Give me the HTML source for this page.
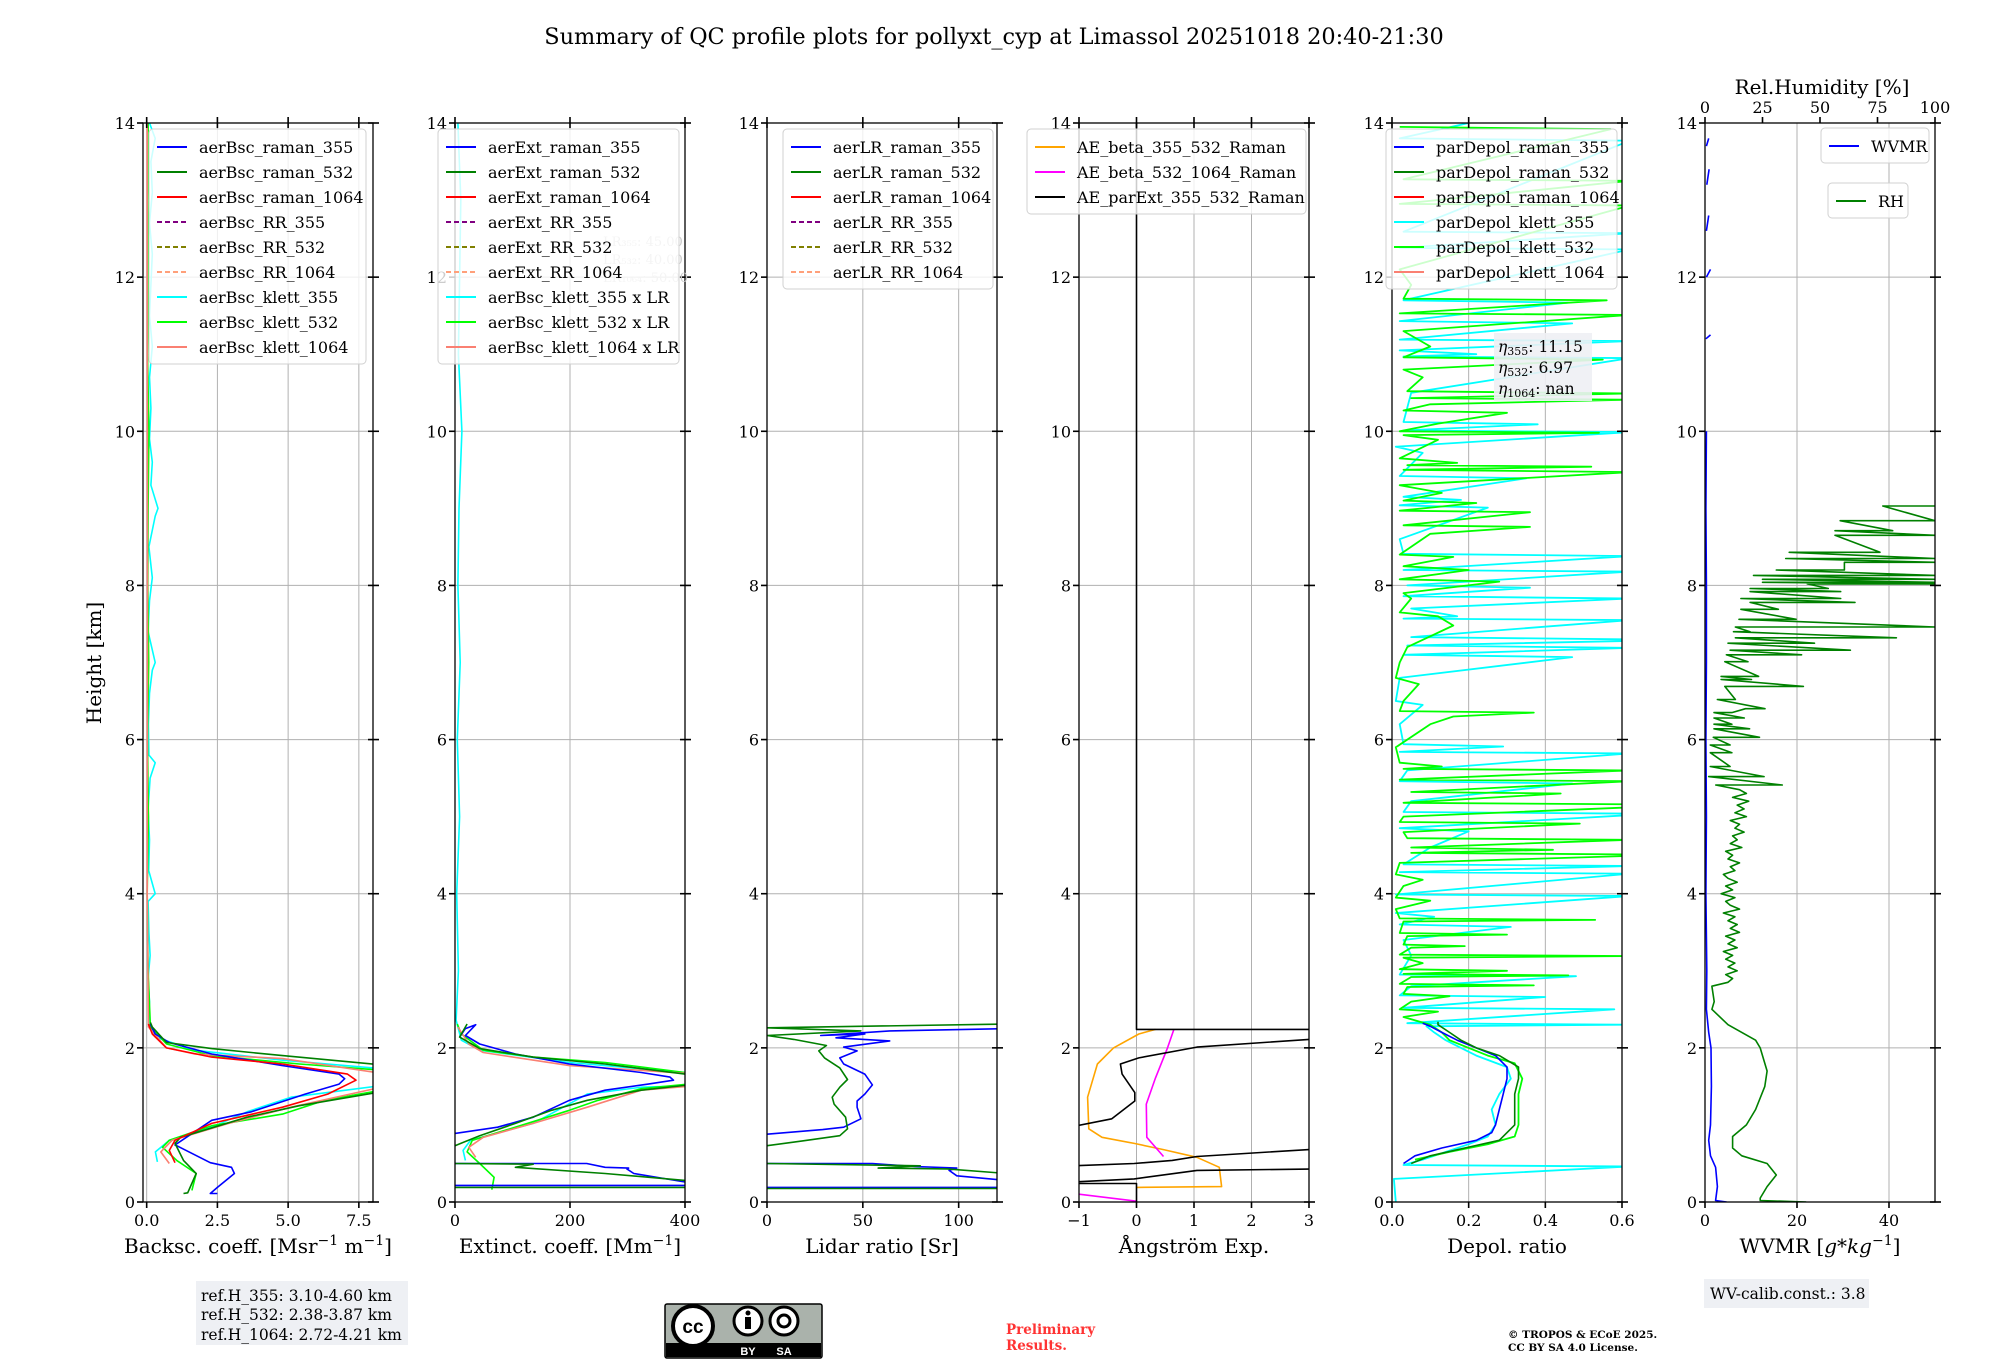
<!DOCTYPE html>
<html><head><meta charset="utf-8">
<style>
html,body{margin:0;padding:0;background:#fff;}
svg{display:block;font-family:"DejaVu Serif","Liberation Serif",serif;}
</style></head>
<body>
<svg id="fig" width="2000" height="1360" viewBox="0 0 2000 1360" xmlns="http://www.w3.org/2000/svg">
<text x="994" y="44" font-size="22.4" text-anchor="middle">Summary of QC profile plots for pollyxt_cyp at Limassol 20251018 20:40-21:30</text>
<text x="0" y="0" font-size="20" text-anchor="middle" transform="translate(101,663) rotate(-90)">Height [km]</text>
<text x="1822" y="94" font-size="20" text-anchor="middle">Rel.Humidity [%]</text>
<g>
<rect x="196" y="1281" width="212" height="64" fill="#eef0f4"/>
<text x="201" y="1301" font-size="15.5">ref.H_355: 3.10-4.60 km</text>
<text x="201" y="1320" font-size="15.5">ref.H_532: 2.38-3.87 km</text>
<text x="201" y="1340" font-size="15.5">ref.H_1064: 2.72-4.21 km</text>
</g>
<g>
<rect x="665" y="1304" width="157" height="54" rx="2" fill="#aab2ab" stroke="#000" stroke-width="1.5"/>
<rect x="666" y="1343" width="155" height="14" fill="#000"/>
<circle cx="693" cy="1326" r="20" fill="#fff" stroke="#000" stroke-width="4"/>
<text x="693" y="1333" font-size="19" font-family="Liberation Sans,sans-serif" font-weight="bold" text-anchor="middle">cc</text>
<circle cx="748" cy="1321" r="14" fill="#fff" stroke="#000" stroke-width="3"/>
<circle cx="748" cy="1313" r="2.5" fill="#000"/>
<rect x="745" y="1317" width="6" height="12" fill="#000"/>
<circle cx="784" cy="1321" r="14" fill="#fff" stroke="#000" stroke-width="3"/>
<circle cx="784" cy="1321" r="6" fill="none" stroke="#000" stroke-width="3"/>
<text x="748" y="1355" font-size="11" fill="#fff" font-family="Liberation Sans,sans-serif" font-weight="bold" text-anchor="middle">BY</text>
<text x="784" y="1355" font-size="11" fill="#fff" font-family="Liberation Sans,sans-serif" font-weight="bold" text-anchor="middle">SA</text>
</g>
<text x="1006" y="1334" font-size="13.5" font-weight="bold" fill="#ff3333">Preliminary</text>
<text x="1006" y="1350" font-size="13.5" font-weight="bold" fill="#ff3333">Results.</text>
<text x="1508" y="1338" font-size="10.5" font-weight="bold">© TROPOS &amp; ECoE 2025.</text>
<text x="1508" y="1351" font-size="10.5" font-weight="bold">CC BY SA 4.0 License.</text>
<g>
<rect x="1704" y="1279" width="165" height="29" fill="#eef0f4"/>
<text x="1710" y="1299" font-size="15.5">WV-calib.const.: 3.8</text>
</g>
</svg>
<script>
// ---------- data (heights in km) ----------
const yTicks = [0,2,4,6,8,10,12,14];
// Panel 1 backscatter
const bscR355H = [0.11,0.11,0.19,0.37,0.45,0.51,0.73,0.74,1.06,1.17,1.40,1.53,1.60,1.66,1.77,1.92,2.07,2.18,2.31];
const bscR355V = [2.5,2.25,2.5,3.1,3.0,2.25,1.06,1.0,2.3,3.7,5.6,6.8,7.0,6.8,4.8,2.3,0.8,0.3,0.13];
const bscR532H = [0.11,0.12,0.37,0.54,0.76,0.84,1.10,1.25,1.43,1.78,1.90,1.99,2.07,2.27,2.33];
const bscR532V = [1.3,1.45,1.75,1.3,1.0,1.2,3.55,5.4,8.3,8.3,4.8,2.3,0.7,0.2,0.13];
const bscR1064H = [0.51,0.67,0.80,1.02,1.23,1.40,1.58,1.66,1.79,1.88,2.00,2.18,2.31];
const bscR1064V = [1.0,0.8,1.0,2.3,4.8,6.4,7.4,7.1,4.8,2.3,0.7,0.2,0.06];
const bscK355H = [0.52,0.65,0.80,0.97,1.17,1.36,1.51,1.73,1.84,1.97,2.14,2.31,2.6,2.9,3.2,3.5,3.9,4.0,4.3,4.7,5.1,5.5,5.7,5.8,6.2,6.6,6.9,7.0,7.4,7.8,8.1,8.5,8.9,9.0,9.3,9.6,9.9,10.3,10.7,11.1,11.5,11.9,12.3,12.7,13.1,13.5,13.8,14.0];
const bscK355V = [0.38,0.31,0.8,2.3,3.55,5.1,8.3,8.3,4.8,1.7,0.31,0.06,0.1,0.05,0.12,0.08,0.05,0.3,0.07,0.1,0.05,0.12,0.3,0.08,0.06,0.1,0.2,0.3,0.05,0.1,0.2,0.08,0.3,0.4,0.15,0.2,0.1,0.15,0.1,0.2,0.1,0.15,0.2,0.1,0.2,0.15,0.3,0.1];
const bscK532H = [0.15,0.37,0.54,0.71,0.80,0.99,1.14,1.32,1.45,1.71,1.79,1.90,2.05,2.27,3,4,5,6,7,8,9,10,11,12,13,14];
const bscK532V = [1.6,1.75,1.06,0.56,0.8,2.3,4.8,6.3,8.3,8.3,5.4,2.3,0.7,0.13,0.05,0.02,0.06,0.03,0.07,0.04,0.05,0.08,0.03,0.06,0.08,0.05];
const bscK1064H = [0.50,0.65,0.80,1.02,1.23,1.49,1.67,1.86,1.92,2.00,2.27,4,8,12,14];
const bscK1064V = [0.8,0.5,0.9,2.9,5.1,8.3,8.3,4.8,1.7,0.7,0.06,0.02,0.03,0.02,0.02];
// Panel 2 extinction (null = break)
const extR355H = [0.216,0.216,0.26,0.37,0.43,0.44,0.45,0.50,0.50,null,0.89,0.97,1.10,1.32,1.45,1.53,1.58,1.62,1.68,1.79,1.92,2.05,2.16,2.30,2.25,2.14];
const extR355V = [0,420,400,311,299,302,261,229,0,null,0,74,136,199,261,336,380,374,324,199,105,43,18,36,18,8];
const extR532H = [0.19,0.19,0.28,0.37,0.45,0.49,0.50,null,0.73,0.86,1.02,1.19,1.32,1.45,1.53,1.60,1.66,1.79,1.88,1.99,2.14,2.31];
const extR532V = [0,420,400,261,105,136,0,null,0,43,105,168,230,324,420,420,400,261,136,43,8,21];
const extK355H = [0.54,0.67,0.80,1.02,1.40,1.49,1.51,1.60,1.68,1.81,1.97,2.10,2.36,3,4,5,6,7,8,9,10,11,12,13,14];
const extK355V = [18,14,27,136,230,324,420,420,400,199,43,11,2,6,3,8,4,9,5,7,12,6,8,10,5];
const extK532H = [0.16,0.32,0.50,0.65,0.80,0.97,1.19,1.32,1.47,1.54,1.62,1.68,1.81,1.88,1.97,2.18,2.31];
const extK532V = [64,68,43,21,30,105,199,249,324,420,420,400,261,136,49,11,4];
const extK1064H = [0.58,0.71,0.84,1.02,1.23,1.45,1.51,1.60,1.67,1.77,1.94,2.05,2.27];
const extK1064V = [36,24,49,136,230,324,420,420,400,199,49,24,5];
const lrLabels = ["LR₃₅₅: 45.00","LR₅₃₂: 40.00","LR₁₀₆₄: 50.00"];
// Panel 3 lidar ratio
const lrR355H = [0.19,0.19,null,0.28,0.34,0.41,0.44,0.46,0.50,0.50,null,0.88,0.94,0.97,1.08,1.23,1.31,1.40,1.52,1.66,1.79,1.87,1.96,2.01,2.09,2.13,2.18,2.16,2.22,2.25];
const lrR355V = [0,125,null,125,99,95,99,77,55,0,null,0,29,40,49,47,47,51,55,51,40,38,47,40,64,36,51,28,64,125];
const lrR532H = [0.175,0.175,null,0.37,0.43,0.44,0.47,0.50,null,0.73,0.79,0.86,0.95,1.10,1.27,1.36,1.49,1.59,1.74,1.87,1.96,2.03,2.11,2.16,2.22,2.26,2.31];
const lrR532V = [0,125,null,125,94,58,80,0,null,0,18,38,42,41,35,34,38,42,38,30,27,31,14,0,49,0,125];
// Panel 4 Angstrom
const aeB355H = [0.19,0.20,0.45,0.58,0.68,0.76,0.84,0.95,1.36,1.79,2.00,2.18,2.24];
const aeB355V = [0,1.48,1.44,1.05,0.47,-0.04,-0.6,-0.83,-0.85,-0.68,-0.4,0.04,0.33];
const aeB532H = [0.01,0.11,null,0.59,0.84,1.27,1.61,2.00,2.24];
const aeB532V = [0,-1.1,null,0.47,0.18,0.17,0.33,0.54,0.65];
const aeExtH = [14,2.24,2.24,null,2.12,2.01,1.87,1.79,1.66,1.42,1.31,1.08,0.98,null,0.69,0.59,0.54,0.50,0.47,null,0.43,0.41,0.30,0.26,null,0.24,0.24,0.0];
const aeExtV = [0,0,3.2,null,3.2,1.05,0.04,-0.28,-0.25,-0.03,-0.03,-0.43,-1.1,null,3.2,1.05,0.62,-0.04,-1.1,null,3.2,1.05,-0.04,-1.1,null,-1.1,0,0];
// Panel 5 depolarization
const dpR355H = [0.50,0.60,0.70,0.80,0.90,1.00,1.20,1.40,1.60,1.75,1.90,2.00,2.10,2.20,2.28,2.32];
const dpR355V = [0.03,0.06,0.13,0.22,0.26,0.27,0.28,0.29,0.30,0.30,0.27,0.22,0.17,0.13,0.10,0.08];
const dpR532H = [0.50,0.60,0.70,0.80,1.00,1.20,1.40,1.60,1.75,1.90,2.00,2.10,2.20,2.30,2.34];
const dpR532V = [0.05,0.10,0.19,0.28,0.32,0.32,0.32,0.33,0.33,0.28,0.22,0.18,0.15,0.12,0.12];
const dpK355H = [0,0.3,0.46,0.48,0.55,0.75,0.85,1.0,1.2,1.4,1.6,1.75,1.9,2.0,2.1,2.2,2.28,2.3,2.32,2.5,2.52,2.66,2.68,2.8,2.93,2.95,3.2,3.4,3.57,3.6,3.7,3.75,3.97,3.99,4.26,4.28,4.36,4.38,4.6,4.81,4.85,5.02,5.04,5.06,5.2,5.43,5.46,5.6,5.82,5.84,5.91,5.94,6.2,6.45,6.5,6.8,7.07,7.1,7.19,7.22,7.28,7.3,7.33,7.55,7.57,7.6,7.7,7.83,7.86,7.97,8.0,8.18,8.2,8.38,8.41,8.6,9.01,9.04,9.11,9.15,9.39,9.42,9.72,9.8,9.99,10.01,10.09,10.12,10.5,10.95,10.97,11.0,11.05,11.17,11.19,11.4,11.43,11.67,11.7,12.36,12.38,12.57,12.59,13.77,13.8,14];
const dpK355V = [0.01,0.005,0.62,0.03,0.08,0.2,0.25,0.27,0.26,0.28,0.31,0.3,0.22,0.18,0.14,0.11,0.09,0.62,0.04,0.58,0.03,0.4,0.02,0.05,0.48,0.02,0.05,0.03,0.31,0.02,0.11,0.01,0.62,0.01,0.62,0.02,0.62,0.03,0.1,0.2,0.02,0.62,0.62,0.03,0.05,0.47,0.02,0.04,0.62,0.02,0.29,0.03,0.02,0.08,0.01,0.02,0.47,0.03,0.62,0.04,0.62,0.62,0.05,0.62,0.03,0.17,0.05,0.62,0.03,0.36,0.04,0.62,0.03,0.62,0.03,0.02,0.25,0.02,0.18,0.03,0.35,0.02,0.08,0.01,0.62,0.03,0.38,0.03,0.05,0.62,0.03,0.22,0.02,0.62,0.02,0.47,0.02,0.46,0.03,0.62,0.02,0.62,0.03,0.62,0.02,0.2];
const dpK532H = [0.55,0.65,0.75,0.85,1.0,1.2,1.4,1.6,1.8,1.9,2.0,2.1,2.2,2.3,2.4,2.47,2.5,2.6,2.67,2.7,2.79,2.81,2.83,2.92,2.94,2.96,3.0,3.02,3.1,3.17,3.19,3.21,3.3,3.32,3.34,3.45,3.47,3.49,3.64,3.66,3.68,3.8,3.91,3.95,4.1,4.18,4.25,4.4,4.49,4.51,4.53,4.57,4.6,4.7,4.72,4.8,4.91,4.93,5.0,5.12,5.14,5.16,5.18,5.3,5.32,5.46,5.48,5.6,5.62,5.65,5.7,5.9,6.2,6.3,6.35,6.37,6.5,6.72,6.8,7.0,7.2,7.48,7.6,7.65,7.83,7.9,8.05,8.08,8.2,8.25,8.37,8.4,8.67,8.76,8.78,8.95,8.97,9.07,9.1,9.2,9.3,9.47,9.5,9.54,9.56,9.59,9.65,9.89,9.95,9.98,10.0,10.1,10.24,10.27,10.35,10.41,10.43,10.49,10.52,10.7,10.8,10.93,10.96,11.1,11.3,11.51,11.53,11.7,11.72,11.9,12.1,12.93,12.95,13.25,13.27,13.92,13.95];
const dpK532V = [0.06,0.15,0.25,0.32,0.33,0.33,0.33,0.34,0.32,0.25,0.2,0.15,0.13,0.1,0.03,0.12,0.02,0.05,0.15,0.03,0.04,0.37,0.02,0.05,0.46,0.03,0.3,0.02,0.08,0.03,0.62,0.02,0.05,0.19,0.03,0.04,0.3,0.02,0.03,0.53,0.02,0.01,0.1,0.01,0.03,0.08,0.01,0.02,0.62,0.62,0.05,0.42,0.05,0.62,0.04,0.03,0.49,0.02,0.03,0.62,0.62,0.62,0.03,0.44,0.05,0.62,0.02,0.62,0.03,0.13,0.02,0.01,0.1,0.16,0.37,0.02,0.03,0.07,0.01,0.02,0.04,0.16,0.12,0.02,0.05,0.03,0.28,0.02,0.2,0.03,0.16,0.02,0.1,0.36,0.03,0.36,0.02,0.22,0.03,0.13,0.02,0.62,0.03,0.52,0.04,0.17,0.02,0.12,0.03,0.54,0.02,0.12,0.3,0.03,0.1,0.62,0.05,0.62,0.04,0.08,0.03,0.55,0.03,0.1,0.03,0.62,0.02,0.56,0.03,0.05,0.02,0.62,0.02,0.62,0.03,0.57,0.02];
const etaLabels = ["11.15","6.97","nan"];
// Panel 6 WVMR (g/kg, bottom) and RH (% , top)
const wvH = [0,0.02,0.2,0.45,0.6,0.8,1.0,1.5,2.0,2.2,2.5,3,4,5,6,7,8,9,10,null,11.2,11.25,null,12.0,12.1,null,12.6,12.8,null,13.2,13.4,null,13.7,13.8];
const wvV = [4.7,2.3,2.7,2.3,1.2,0.8,1.2,1.4,1.3,0.8,0.3,0.4,0.2,0.3,0.2,0.3,0.3,0.2,0.3,null,0.2,1.2,null,0.3,1.2,null,0.3,0.8,null,0.4,0.9,null,0.3,0.8];
const rhH = [0,0.02,0.05,0.2,0.35,0.5,0.6,0.7,0.85,1.0,1.2,1.5,1.7,1.9,2.0,2.1,2.3,2.5,2.6,2.8,2.85,2.9,2.95,3.0,3.05,3.1,3.15,3.2,3.25,3.3,3.35,3.4,3.45,3.5,3.55,3.6,3.65,3.7,3.75,3.8,3.85,3.9,3.95,4.0,4.05,4.1,4.15,4.2,4.25,4.3,4.35,4.4,4.45,4.5,4.55,4.6,4.65,4.7,4.75,4.8,4.85,4.9,4.95,5.0,5.05,5.1,5.15,5.2,5.25,5.3,5.35,5.41,5.41,5.52,5.52,5.65,5.65,5.83,5.83,5.93,5.93,6.03,6.03,6.14,6.14,6.2,6.2,6.28,6.28,6.35,6.35,6.4,6.4,6.52,6.52,6.69,6.69,6.78,6.78,6.82,6.82,7.01,7.01,7.1,7.1,7.16,7.16,7.25,7.25,7.32,7.32,7.4,7.4,7.46,7.46,7.56,7.56,7.69,7.69,7.78,7.78,7.83,7.83,7.92,7.92,7.96,7.96,8.02,8.02,8.04,8.04,8.08,8.08,8.13,8.13,8.2,8.2,8.3,8.3,8.35,8.35,8.43,8.43,8.65,8.65,8.71,8.71,8.84,8.84,9.03,9.03];
const rhV = [44,24,24,27,31,27,16,12,12,18,22,26,27,25,24,22,10,3,4,3,10,12,9,14,10,13,9,12,8,14,10,13,9,15,11,14,10,13,8,15,11,9,13,7,12,9,14,10,8,13,11,15,10,12,9,16,11,14,12,17,13,15,11,18,13,17,14,19,12,18,15,4.7,33.6,1.6,25.7,2.3,10.9,2.3,11.7,2.3,10.9,3.6,23.7,3.9,19.4,3.9,11.7,3.9,17.1,3.9,11.7,17.6,26.1,5.4,13.2,8.6,42.8,7,20.2,7,23.3,8.6,18.7,9.3,42,10.9,63.2,10,47.6,13.2,83.2,12.4,19.6,13.2,100,14.8,39.6,15.6,31.9,19.6,65.2,15.6,59,19.6,59,19.6,53.6,44.5,100,25,100,25,100,21.1,100,31,60.6,60.6,100,35.1,100,36.6,76.1,56.5,100,56.5,81.6,58.8,100,77.3,100];

// ---------- layout ----------
const svg = document.getElementById('fig');
const NS = 'http://www.w3.org/2000/svg';
const TOP = 123, BOT = 1202, HMAX = 14;
function yS(h){ return BOT - (h/HMAX)*(BOT-TOP); }
function mk(tag, attrs, name, parent){
  const el = document.createElementNS(NS, tag);
  for (const k in attrs) el.setAttribute(k, attrs[k]);
  
  
  (parent||svg).appendChild(el);
  return el;
}
const panels = [
  {id:'bsc', left:143, xmin:-0.13, xmax:8, ticks:[0,2.5,5,7.5], fmt:v=>v.toFixed(1), label:['Backsc. coeff. [Msr','−1',' m','−1',']']},
  {id:'ext', left:455, xmin:0, xmax:400, ticks:[0,200,400], fmt:v=>String(v), label:['Extinct. coeff. [Mm','−1',']']},
  {id:'lr', left:767, xmin:0, xmax:120, ticks:[0,50,100], fmt:v=>String(v), label:['Lidar ratio [Sr]']},
  {id:'ae', left:1079, xmin:-1, xmax:3, ticks:[-1,0,1,2,3], fmt:v=>(v<0?'−':'')+Math.abs(v), label:['Ångström Exp.']},
  {id:'depol', left:1392, xmin:0, xmax:0.6, ticks:[0,0.2,0.4,0.6], fmt:v=>v.toFixed(1), label:['Depol. ratio']},
  {id:'wv', left:1705, xmin:0, xmax:50, ticks:[0,20,40], fmt:v=>String(v), label:['WVMR [',"g*kg",'−1',']']}
];
const W = 230;
panels.forEach(p=>{ p.xS = v => p.left + (v-p.xmin)/(p.xmax-p.xmin)*W; });

function drawAxesBase(p){
  const g = mk('g', {}, p.id+'-panel');
  const cp = mk('clipPath', {id:'clip-'+p.id}, p.id+'-clip', g);
  mk('rect', {x:p.left, y:TOP, width:W, height:BOT-TOP}, p.id+'-clip-rect', cp);
  yTicks.forEach(t=>{
    mk('line',{x1:p.left,x2:p.left+W,y1:yS(t),y2:yS(t),stroke:'#b0b0b0','stroke-width':1}, p.id+'-y-grid', g);
  });
  p.ticks.forEach(t=>{
    mk('line',{x1:p.xS(t),x2:p.xS(t),y1:TOP,y2:BOT,stroke:'#b0b0b0','stroke-width':1}, p.id+'-x-grid', g);
  });
  p.g = g;
  p.dg = mk('g', {'clip-path':'url(#clip-'+p.id+')'}, p.id+'-series-group', g);
}
function drawAxesFrame(p){
  const g = p.g;
  mk('rect',{x:p.left,y:TOP,width:W,height:BOT-TOP,fill:'none',stroke:'#000','stroke-width':1.3}, p.id+'-frame', g);
  yTicks.forEach(t=>{
    mk('line',{x1:p.left-6,x2:p.left,y1:yS(t),y2:yS(t),stroke:'#000','stroke-width':1.6}, p.id+'-y-tick', g);
    mk('line',{x1:p.left+W-5,x2:p.left+W+6,y1:yS(t),y2:yS(t),stroke:'#000','stroke-width':1.6}, p.id+'-y-tick-right', g);
    const tx = mk('text',{x:p.left-8,y:yS(t)+6,'font-size':16,'text-anchor':'end'}, p.id+'-y-tick-label', g);
    tx.textContent = t;
  });
  p.ticks.forEach(t=>{
    mk('line',{x1:p.xS(t),x2:p.xS(t),y1:BOT,y2:BOT+6,stroke:'#000','stroke-width':1.6}, p.id+'-x-tick', g);
    if (p.id!=='wv') mk('line',{x1:p.xS(t),x2:p.xS(t),y1:TOP-6,y2:TOP+5,stroke:'#000','stroke-width':1.6}, p.id+'-x-tick-top', g);
    const tx = mk('text',{x:p.xS(t),y:BOT+24,'font-size':16,'text-anchor':'middle'}, p.id+'-x-tick-label', g);
    tx.textContent = p.fmt(t);
  });
  const lab = mk('text',{x:p.left+W/2,y:1253,'font-size':20,'text-anchor':'middle'}, p.id+'-x-axis-title', g);
  p.label.forEach((s,i)=>{
    const ts = document.createElementNS(NS,'tspan');
    if (s==='−1'){ ts.setAttribute('font-size','14'); ts.setAttribute('dy','-8'); }
    else if (i>0 && p.label[i-1]==='−1'){ ts.setAttribute('dy','8'); }
    if (s==='g*kg'){ ts.setAttribute('font-style','italic'); }
    ts.textContent = s;
    lab.appendChild(ts);
  });
}
function line(p, H, V, color, name, width, dash){
  let d = '', pen = false;
  for (let i=0;i<H.length;i++){
    if (H[i]===null || V[i]===null){ pen=false; continue; }
    d += (pen?'L':'M') + p.xS(V[i]).toFixed(1) + ',' + yS(H[i]).toFixed(1);
    pen = true;
  }
  const a = {d:d, fill:'none', stroke:color, 'stroke-width':width||1.6, 'stroke-linejoin':'round'};
  if (dash) a['stroke-dasharray']=dash;
  mk('path', a, name, p.dg);
}
function legend(x,y,w,entries,name){
  const g = mk('g',{}, name);
  mk('rect',{x:x,y:y,width:w,height:entries.length*25+10,rx:4,fill:'#fff','fill-opacity':0.8,stroke:'#d0d0d0','stroke-width':1}, name+'-box', g);
  entries.forEach((e,i)=>{
    const cy = y+18+i*25;
    const la = {x1:x+8,x2:x+38,y1:cy,y2:cy,stroke:e[1],'stroke-width':2};
    if (e[2]) la['stroke-dasharray']='5,3';
    mk('line', la, name+'-swatch', g);
    const t = mk('text',{x:x+50,y:cy+6,'font-size':16}, name+'-entry', g);
    t.textContent = e[0];
  });
}
panels.forEach(drawAxesBase);
const [P1,P2,P3,P4,P5,P6] = panels;
const C = {b:'#0000ff', g:'#008000', r:'#ff0000', c:'#00ffff', l:'#00ff00', s:'#fa8072'};

line(P1, bscK355H, bscK355V, C.c, 'bsc-klett-355-line');
line(P1, bscK532H, bscK532V, C.l, 'bsc-klett-532-line');
line(P1, bscK1064H, bscK1064V, C.s, 'bsc-klett-1064-line');
line(P1, bscR355H, bscR355V, C.b, 'bsc-raman-355-line');
line(P1, bscR532H, bscR532V, C.g, 'bsc-raman-532-line');
line(P1, bscR1064H, bscR1064V, C.r, 'bsc-raman-1064-line');

line(P2, extK355H, extK355V, C.c, 'ext-klett-355-line');
line(P2, extK532H, extK532V, C.l, 'ext-klett-532-line');
line(P2, extK1064H, extK1064V, C.s, 'ext-klett-1064-line');
line(P2, extR355H, extR355V, C.b, 'ext-raman-355-line');
line(P2, extR532H, extR532V, C.g, 'ext-raman-532-line');

line(P3, lrR355H, lrR355V, C.b, 'lr-raman-355-line');
line(P3, lrR532H, lrR532V, C.g, 'lr-raman-532-line');

line(P4, aeB355H, aeB355V, '#ffa500', 'ae-beta-355-532-line');
line(P4, aeB532H, aeB532V, '#ff00ff', 'ae-beta-532-1064-line');
line(P4, aeExtH, aeExtV, '#000000', 'ae-parext-355-532-line');

line(P5, dpK355H, dpK355V, C.c, 'depol-klett-355-line', 1.8);
line(P5, dpK532H, dpK532V, C.l, 'depol-klett-532-line', 1.8);
line(P5, dpR355H, dpR355V, C.b, 'depol-raman-355-line');
line(P5, dpR532H, dpR532V, C.g, 'depol-raman-532-line');

line(P6, wvH, wvV, C.b, 'wvmr-line');
const P6rh = {dg:P6.dg, xS: v => P6.left + v/100*W};
line(P6rh, rhH, rhV, C.g, 'rh-line');

panels.forEach(drawAxesFrame);

// top RH axis
const rhTicks = [0,25,50,75,100];
rhTicks.forEach(t=>{
  mk('line',{x1:P6rh.xS(t),x2:P6rh.xS(t),y1:TOP-6,y2:TOP,stroke:'#000','stroke-width':1.6}, 'rh-top-tick', P6.g);
  const tx = mk('text',{x:P6rh.xS(t),y:TOP-10,'font-size':16,'text-anchor':'middle'}, 'rh-top-tick-label', P6.g);
  tx.textContent = t;
});

// faint LR annotation in panel 2
lrLabels.forEach((s,i)=>{
  const t = mk('text',{x:603,y:246+i*18,'font-size':13,fill:'#c8c8c8'}, 'lr-annotation', P2.g);
  t.textContent = s;
});

// legends
legend(149,129,217,[['aerBsc_raman_355',C.b],['aerBsc_raman_532',C.g],['aerBsc_raman_1064',C.r],['aerBsc_RR_355','#800080',1],['aerBsc_RR_532','#808000',1],['aerBsc_RR_1064','#ffa07a',1],['aerBsc_klett_355',C.c],['aerBsc_klett_532',C.l],['aerBsc_klett_1064',C.s]],'bsc-legend');
legend(438,129,241,[['aerExt_raman_355',C.b],['aerExt_raman_532',C.g],['aerExt_raman_1064',C.r],['aerExt_RR_355','#800080',1],['aerExt_RR_532','#808000',1],['aerExt_RR_1064','#ffa07a',1],['aerBsc_klett_355 x LR',C.c],['aerBsc_klett_532 x LR',C.l],['aerBsc_klett_1064 x LR',C.s]],'ext-legend');
legend(783,129,210,[['aerLR_raman_355',C.b],['aerLR_raman_532',C.g],['aerLR_raman_1064',C.r],['aerLR_RR_355','#800080',1],['aerLR_RR_532','#808000',1],['aerLR_RR_1064','#ffa07a',1]],'lr-legend');
legend(1027,129,279,[['AE_beta_355_532_Raman','#ffa500'],['AE_beta_532_1064_Raman','#ff00ff'],['AE_parExt_355_532_Raman','#000000']],'ae-legend');
legend(1386,129,231,[['parDepol_raman_355',C.b],['parDepol_raman_532',C.g],['parDepol_raman_1064',C.r],['parDepol_klett_355',C.c],['parDepol_klett_532',C.l],['parDepol_klett_1064',C.s]],'depol-legend');
legend(1821,128,108,[['WVMR',C.b]],'wvmr-legend');
legend(1828,183,80,[['RH',C.g]],'rh-legend');

// eta box
const eg = mk('g',{}, 'eta-box');
mk('rect',{x:1494,y:333,width:98,height:68,fill:'#eef0f4','fill-opacity':0.9}, 'eta-box-bg', eg);
const subs = ['355','532','1064'];
etaLabels.forEach((v,i)=>{
  const t = mk('text',{x:1498,y:352+i*21,'font-size':15.5}, 'eta-label', eg);
  const a = document.createElementNS(NS,'tspan'); a.setAttribute('font-style','italic'); a.textContent='η'; t.appendChild(a);
  const b = document.createElementNS(NS,'tspan'); b.setAttribute('font-size','11'); b.setAttribute('dy','3'); b.textContent=subs[i]; t.appendChild(b);
  const c = document.createElementNS(NS,'tspan'); c.setAttribute('dy','-3'); c.textContent=': '+v; t.appendChild(c);
});
</script>
</body></html>
